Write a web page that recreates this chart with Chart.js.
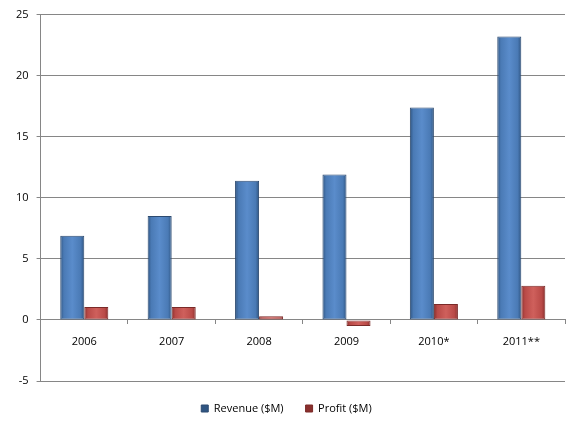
<!DOCTYPE html>
<html lang="en">
<head>
    <meta charset="UTF-8">
    <title>Revenue and Profit</title>
    <style>
        html, body { margin: 0; padding: 0; background: #fff; }
        #wrap { width: 580px; height: 428px; }
    </style>
</head>
<body>
    <div id="wrap">
        <canvas id="myChart"></canvas>
    </div>

    <script src="https://cdn.jsdelivr.net/npm/chart.js"></script>
    <script>
        // data
        const years = ["2006", "2007", "2008", "2009", "2010*", "2011**"];
        const revenue = [6.9, 8.5, 11.4, 11.9, 17.4, 23.2];
        const profit = [1.05, 1.05, 0.3, -0.5, 1.3, 2.8];
        const yTicks = { min: -5, max: 25, step: 5 };

        // horizontal shading per bar so it looks a bit like the bevelled excel bars
        function barShade(dark, mid, light, side) {
            return (c) => {
                const chart = c.chart;
                const xs = chart.scales.x;
                if (!xs || !chart.chartArea || c.dataIndex === undefined) return mid;
                const centre = xs.getPixelForValue(c.dataIndex);
                const w = xs.width / years.length * 0.55 / 2;
                const x0 = side === 0 ? centre - w : centre;
                const g = chart.ctx.createLinearGradient(x0, 0, x0 + w, 0);
                g.addColorStop(0, dark);
                g.addColorStop(0.15, mid);
                g.addColorStop(0.5, light);
                g.addColorStop(0.85, mid);
                g.addColorStop(1, dark);
                return g;
            };
        }

        const ctx = document.getElementById("myChart");

        new Chart(ctx, {
            type: "bar",
            data: {
                labels: years,
                datasets: [
                    {
                        label: "Revenue ($M)",
                        data: revenue,
                        backgroundColor: barShade("#2f5582", "#4a7ab5", "#5a8ccb", 0),
                        borderColor: "#2c4a70",
                        borderWidth: 1,
                        borderSkipped: false
                    },
                    {
                        label: "Profit ($M)",
                        data: profit,
                        backgroundColor: barShade("#8a2f2d", "#b94a47", "#cf605c", 1),
                        borderColor: "#7a2a28",
                        borderWidth: 1,
                        borderSkipped: false
                    }
                ]
            },
            options: {
                responsive: true,
                maintainAspectRatio: false,
                animation: false,
                devicePixelRatio: 1,
                categoryPercentage: 0.55,
                barPercentage: 1,
                layout: { padding: { top: 8, right: 15, left: 8, bottom: 4 } },
                plugins: {
                    tooltip: { enabled: false },
                    legend: {
                        position: "bottom",
                        labels: {
                            boxWidth: 7,
                            boxHeight: 7,
                            padding: 22,
                            color: "#000",
                            font: { family: "'Open Sans', sans-serif", size: 11 }
                        }
                    }
                },
                scales: {
                    x: {
                        position: { y: 0 },
                        afterFit: (s) => { s.height = 0; },
                        border: { display: true, color: "#868686" },
                        grid: {
                            offset: true,
                            drawOnChartArea: false,
                            drawTicks: true,
                            tickLength: 4,
                            color: "#868686"
                        },
                        ticks: {
                            padding: 11,
                            color: "#000",
                            font: { family: "'Open Sans', sans-serif", size: 11 }
                        }
                    },
                    y: {
                        min: yTicks.min,
                        max: yTicks.max,
                        border: { display: true, color: "#868686" },
                        grid: {
                            color: "#868686",
                            drawTicks: true,
                            tickLength: 4
                        },
                        ticks: {
                            stepSize: yTicks.step,
                            padding: 8,
                            color: "#000",
                            font: { family: "'Open Sans', sans-serif", size: 11 }
                        }
                    }
                }
            }
        });
    </script>
</body>
</html>
